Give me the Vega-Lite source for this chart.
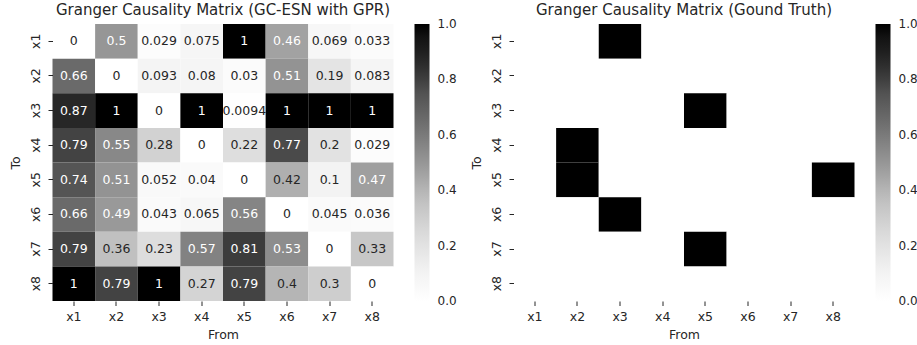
{
  "$schema": "https://vega.github.io/schema/vega-lite/v6.json",
  "padding": {"left": 8.5, "top": 3, "right": 0, "bottom": 5},
  "background": "white",
  "config": {
    "font": "DejaVu Sans",
    "view": {"stroke": null},
    "axis": {"domain": false, "tickSize": 4.5, "tickColor": "#262626", "labelColor": "#262626", "labelFont": "DejaVu Sans", "labelFontSize": 12.5, "titleFont": "DejaVu Sans", "titleFontSize": 12.5, "titleFontWeight": "normal", "titleColor": "#262626", "grid": false},
    "title": {"font": "DejaVu Sans", "fontSize": 15, "fontWeight": "normal", "color": "#262626", "offset": 6},
    "legend": {"labelFont": "DejaVu Sans", "labelFontSize": 12, "labelColor": "#262626"}
  },
  "data": {"values": [
    {"t":"x1","f":"x1","v":0,"l":"0","g":0},{"t":"x1","f":"x2","v":0.5,"l":"0.5","g":0},{"t":"x1","f":"x3","v":0.029,"l":"0.029","g":1},{"t":"x1","f":"x4","v":0.075,"l":"0.075","g":0},{"t":"x1","f":"x5","v":1,"l":"1","g":0},{"t":"x1","f":"x6","v":0.46,"l":"0.46","g":0},{"t":"x1","f":"x7","v":0.069,"l":"0.069","g":0},{"t":"x1","f":"x8","v":0.033,"l":"0.033","g":0},
    {"t":"x2","f":"x1","v":0.66,"l":"0.66","g":0},{"t":"x2","f":"x2","v":0,"l":"0","g":0},{"t":"x2","f":"x3","v":0.093,"l":"0.093","g":0},{"t":"x2","f":"x4","v":0.08,"l":"0.08","g":0},{"t":"x2","f":"x5","v":0.03,"l":"0.03","g":0},{"t":"x2","f":"x6","v":0.51,"l":"0.51","g":0},{"t":"x2","f":"x7","v":0.19,"l":"0.19","g":0},{"t":"x2","f":"x8","v":0.083,"l":"0.083","g":0},
    {"t":"x3","f":"x1","v":0.87,"l":"0.87","g":0},{"t":"x3","f":"x2","v":1,"l":"1","g":0},{"t":"x3","f":"x3","v":0,"l":"0","g":0},{"t":"x3","f":"x4","v":1,"l":"1","g":0},{"t":"x3","f":"x5","v":0.0094,"l":"0.0094","g":1},{"t":"x3","f":"x6","v":1,"l":"1","g":0},{"t":"x3","f":"x7","v":1,"l":"1","g":0},{"t":"x3","f":"x8","v":1,"l":"1","g":0},
    {"t":"x4","f":"x1","v":0.79,"l":"0.79","g":0},{"t":"x4","f":"x2","v":0.55,"l":"0.55","g":1},{"t":"x4","f":"x3","v":0.28,"l":"0.28","g":0},{"t":"x4","f":"x4","v":0,"l":"0","g":0},{"t":"x4","f":"x5","v":0.22,"l":"0.22","g":0},{"t":"x4","f":"x6","v":0.77,"l":"0.77","g":0},{"t":"x4","f":"x7","v":0.2,"l":"0.2","g":0},{"t":"x4","f":"x8","v":0.029,"l":"0.029","g":0},
    {"t":"x5","f":"x1","v":0.74,"l":"0.74","g":0},{"t":"x5","f":"x2","v":0.51,"l":"0.51","g":1},{"t":"x5","f":"x3","v":0.052,"l":"0.052","g":0},{"t":"x5","f":"x4","v":0.04,"l":"0.04","g":0},{"t":"x5","f":"x5","v":0,"l":"0","g":0},{"t":"x5","f":"x6","v":0.42,"l":"0.42","g":0},{"t":"x5","f":"x7","v":0.1,"l":"0.1","g":0},{"t":"x5","f":"x8","v":0.47,"l":"0.47","g":1},
    {"t":"x6","f":"x1","v":0.66,"l":"0.66","g":0},{"t":"x6","f":"x2","v":0.49,"l":"0.49","g":0},{"t":"x6","f":"x3","v":0.043,"l":"0.043","g":1},{"t":"x6","f":"x4","v":0.065,"l":"0.065","g":0},{"t":"x6","f":"x5","v":0.56,"l":"0.56","g":0},{"t":"x6","f":"x6","v":0,"l":"0","g":0},{"t":"x6","f":"x7","v":0.045,"l":"0.045","g":0},{"t":"x6","f":"x8","v":0.036,"l":"0.036","g":0},
    {"t":"x7","f":"x1","v":0.79,"l":"0.79","g":0},{"t":"x7","f":"x2","v":0.36,"l":"0.36","g":0},{"t":"x7","f":"x3","v":0.23,"l":"0.23","g":0},{"t":"x7","f":"x4","v":0.57,"l":"0.57","g":0},{"t":"x7","f":"x5","v":0.81,"l":"0.81","g":1},{"t":"x7","f":"x6","v":0.53,"l":"0.53","g":0},{"t":"x7","f":"x7","v":0,"l":"0","g":0},{"t":"x7","f":"x8","v":0.33,"l":"0.33","g":0},
    {"t":"x8","f":"x1","v":1,"l":"1","g":0},{"t":"x8","f":"x2","v":0.79,"l":"0.79","g":0},{"t":"x8","f":"x3","v":1,"l":"1","g":0},{"t":"x8","f":"x4","v":0.27,"l":"0.27","g":0},{"t":"x8","f":"x5","v":0.79,"l":"0.79","g":0},{"t":"x8","f":"x6","v":0.4,"l":"0.4","g":0},{"t":"x8","f":"x7","v":0.3,"l":"0.3","g":0},{"t":"x8","f":"x8","v":0,"l":"0","g":0}
  ]},
  "spacing": 12,
  "resolve": {"scale": {"color": "independent"}, "legend": {"color": "independent"}},
  "hconcat": [
    {
      "width": 341,
      "height": 277,
      "title": "Granger Causality Matrix (GC-ESN with GPR)",
      "encoding": {
        "x": {"field": "f", "type": "nominal", "title": "From", "sort": ["x1","x2","x3","x4","x5","x6","x7","x8"], "scale": {"paddingInner": 0, "paddingOuter": 0}, "axis": {"labelAngle": 0, "labelPadding": 5, "titlePadding": 5}},
        "y": {"field": "t", "type": "nominal", "title": "To", "sort": ["x1","x2","x3","x4","x5","x6","x7","x8"], "scale": {"paddingInner": 0, "paddingOuter": 0}, "axis": {"labelAngle": -90, "labelPadding": 6, "titlePadding": 7}}
      },
      "layer": [
        {
          "mark": {"type": "rect"},
          "encoding": {
            "color": {"field": "v", "type": "quantitative",
              "scale": {"domain": [0,0.125,0.25,0.375,0.5,0.625,0.75,0.875,1], "range": ["#ffffff","#f0f0f0","#d9d9d9","#bdbdbd","#969696","#737373","#525252","#252525","#000000"]},
              "legend": {"title": null, "direction": "vertical", "gradientLength": 277, "gradientThickness": 15, "offset": 21, "padding": 0, "values": [0,0.2,0.4,0.6,0.8,1], "format": ".1f", "labelOffset": 8, "gradientStrokeWidth": 0,
                "encode": {"labels": {"update": {"baseline": {"value": "middle"}}}}}}
          }
        },
        {
          "mark": {"type": "text", "fontSize": 12.5, "font": "DejaVu Sans"},
          "encoding": {
            "text": {"field": "l"},
            "color": {"condition": {"test": "datum.v > 0.45", "value": "#ffffff"}, "value": "#262626"}
          }
        }
      ]
    },
    {
      "width": 341,
      "height": 277,
      "title": "Granger Causality Matrix (Gound Truth)",
      "mark": {"type": "rect"},
      "encoding": {
        "x": {"field": "f", "type": "nominal", "title": "From", "sort": ["x1","x2","x3","x4","x5","x6","x7","x8"], "scale": {"paddingInner": 0, "paddingOuter": 0}, "axis": {"labelAngle": 0, "labelPadding": 5, "titlePadding": 5}},
        "y": {"field": "t", "type": "nominal", "title": "To", "sort": ["x1","x2","x3","x4","x5","x6","x7","x8"], "scale": {"paddingInner": 0, "paddingOuter": 0}, "axis": {"labelAngle": -90, "labelPadding": 6, "titlePadding": 7}},
        "color": {"field": "g", "type": "quantitative",
          "scale": {"domain": [0,0.125,0.25,0.375,0.5,0.625,0.75,0.875,1], "range": ["#ffffff","#f0f0f0","#d9d9d9","#bdbdbd","#969696","#737373","#525252","#252525","#000000"]},
          "legend": {"title": null, "direction": "vertical", "gradientLength": 277, "gradientThickness": 15, "offset": 21, "padding": 0, "values": [0,0.2,0.4,0.6,0.8,1], "format": ".1f", "labelOffset": 8, "gradientStrokeWidth": 0,
            "encode": {"labels": {"update": {"baseline": {"value": "middle"}}}}}}
      }
    }
  ]
}
